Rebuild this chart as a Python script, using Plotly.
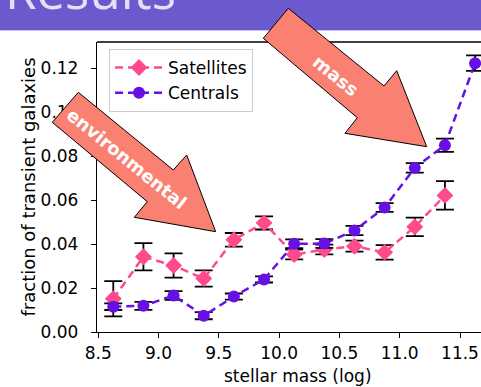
import plotly.graph_objects as go

# stellar-mass bin centres (log M*)
sat_mass = [8.625, 8.875, 9.125, 9.375, 9.625, 9.875, 10.125, 10.375, 10.625, 10.875, 11.125, 11.375]
cen_mass = [8.625, 8.875, 9.125, 9.375, 9.625, 9.875, 10.125, 10.375, 10.625, 10.875, 11.125, 11.375, 11.625]

# fraction of transient galaxies and its uncertainty
sat_frac = [0.0151, 0.0342, 0.0302, 0.0243, 0.0419, 0.0496, 0.0352, 0.0375, 0.0390, 0.0362, 0.0478, 0.0621]
sat_err = [0.0080, 0.0062, 0.0055, 0.0037, 0.0031, 0.0030, 0.0022, 0.0022, 0.0025, 0.0033, 0.0042, 0.0065]
cen_frac = [0.0115, 0.0119, 0.0166, 0.0074, 0.0161, 0.0239, 0.0401, 0.0402, 0.0461, 0.0566, 0.0746, 0.0849, 0.1222]
cen_err = [0.0015, 0.0018, 0.0020, 0.0016, 0.0014, 0.0014, 0.0020, 0.0020, 0.0021, 0.0020, 0.0022, 0.0030, 0.0035]

x_ticks = [8.5, 9.0, 9.5, 10.0, 10.5, 11.0, 11.5]
y_ticks = [0.00, 0.02, 0.04, 0.06, 0.08, 0.10, 0.12]

W, H = 481, 387
L, R, T, B = 97, 0, 42, 55
PW, PH = W - L - R, H - T - B

SAT_COL = "#ff4a8d"
CEN_COL = "#6610e6"
ARROW_COL = "#fa8072"
FONT = "DejaVu Sans"


def px(x):
    return (x - L) / PW


def py(y):
    return (H - B - y) / PH


def poly(points):
    return "M " + " L ".join(f"{px(x):.5f},{py(y):.5f}" for x, y in points) + " Z"


fig = go.Figure()
fig.add_trace(go.Scatter(
    x=sat_mass, y=sat_frac, name="Satellites", mode="lines+markers",
    legendgroup="sat",
    line=dict(color=SAT_COL, width=2.5, dash="8px,5px"),
    marker=dict(symbol="diamond", size=13, color=SAT_COL),
    error_y=dict(type="data", array=sat_err, color="black", thickness=1.8, width=9),
))
fig.add_trace(go.Scatter(
    x=cen_mass, y=cen_frac, name="Centrals", mode="lines+markers",
    legendgroup="cen",
    line=dict(color=CEN_COL, width=2.5, dash="8px,5px"),
    marker=dict(symbol="circle", size=12, color=CEN_COL),
    error_y=dict(type="data", array=cen_err, color="black", thickness=1.8, width=9),
))

# slide header band and frame line along the top of the axes
shapes = [
    dict(type="rect", xref="paper", yref="paper", x0=px(0), x1=px(W), y0=py(30), y1=py(-5),
         fillcolor="#6a5acd", line=dict(width=0), layer="above"),
    dict(type="line", xref="paper", yref="paper", x0=px(0), x1=px(W), y0=py(30.5), y1=py(30.5),
         line=dict(color="#c8c0f0", width=1), layer="above"),
    dict(type="line", xref="paper", yref="paper", x0=0, x1=1, y0=1, y1=1,
         line=dict(color="black", width=1.3), layer="above"),
]

# annotation arrows
env_arrow = [(78.3, 92.3), (173.3, 170.0), (186.7, 155.0), (215.7, 231.7),
             (134.3, 217.3), (147.3, 201.7), (52.3, 122.3)]
mass_arrow = [(288.3, 8.3), (384.0, 86.0), (396.7, 70.7), (426.7, 146.7),
              (345.0, 133.3), (357.3, 117.7), (263.3, 38.3)]
for pts in (env_arrow, mass_arrow):
    shapes.append(dict(type="path", xref="paper", yref="paper", path=poly(pts),
                       fillcolor=ARROW_COL, line=dict(color="black", width=1), layer="above"))

annotations = [
    dict(text="Results", xref="paper", yref="paper", x=px(3), y=py(12), xanchor="left",
         yanchor="bottom", showarrow=False, yshift=-14,
         font=dict(family="Open Sans", size=51, color="#e4e0fa")),
    dict(text="<b>environmental</b>", xref="paper", yref="paper", x=px(126.7), y=py(158.3),
         xanchor="center", yanchor="middle",
         showarrow=False, textangle=39, font=dict(family=FONT, size=18, color="white")),
    dict(text="<b>mass</b>", xref="paper", yref="paper", x=px(335.8), y=py(75.0),
         xanchor="center", yanchor="middle",
         showarrow=False, textangle=39, font=dict(family=FONT, size=18, color="white")),
    dict(text="stellar mass (log)", xref="paper", yref="paper", x=px(297.5), y=py(376),
         xanchor="center", yanchor="middle",
         showarrow=False, font=dict(family=FONT, size=17, color="black")),
]

fig.update_layout(
    width=W, height=H,
    margin=dict(l=L, r=R, t=T, b=B, pad=0),
    paper_bgcolor="white", plot_bgcolor="white",
    font=dict(family=FONT, size=17, color="black"),
    showlegend=True,
    legend=dict(x=px(109), y=py(49), xanchor="left", yanchor="top",
                bgcolor="rgba(255,255,255,0.8)", bordercolor="#cccccc", borderwidth=1,
                font=dict(family=FONT, size=17), itemwidth=48,
                traceorder="grouped", tracegroupgap=0),
    shapes=shapes,
    annotations=annotations,
)
fig.update_xaxes(range=[8.49, 8.49 + PW / 120.6], tickvals=x_ticks, tickformat=".1f",
                 showgrid=False, zeroline=False, showline=True, linecolor="black", linewidth=1.3,
                 ticks="outside", ticklen=5, tickwidth=1.3, tickcolor="black")
fig.update_yaxes(range=[0, PH / 2200], tickvals=y_ticks, tickformat=".2f",
                 showgrid=False, zeroline=False, showline=True, linecolor="black", linewidth=1.3,
                 ticks="outside", ticklen=5, tickwidth=1.3, tickcolor="black",
                 ticklabelstandoff=9,
                 title=dict(text="fraction of transient galaxies", standoff=0,
                            font=dict(family=FONT, size=18)))

fig.write_html("out.html")
